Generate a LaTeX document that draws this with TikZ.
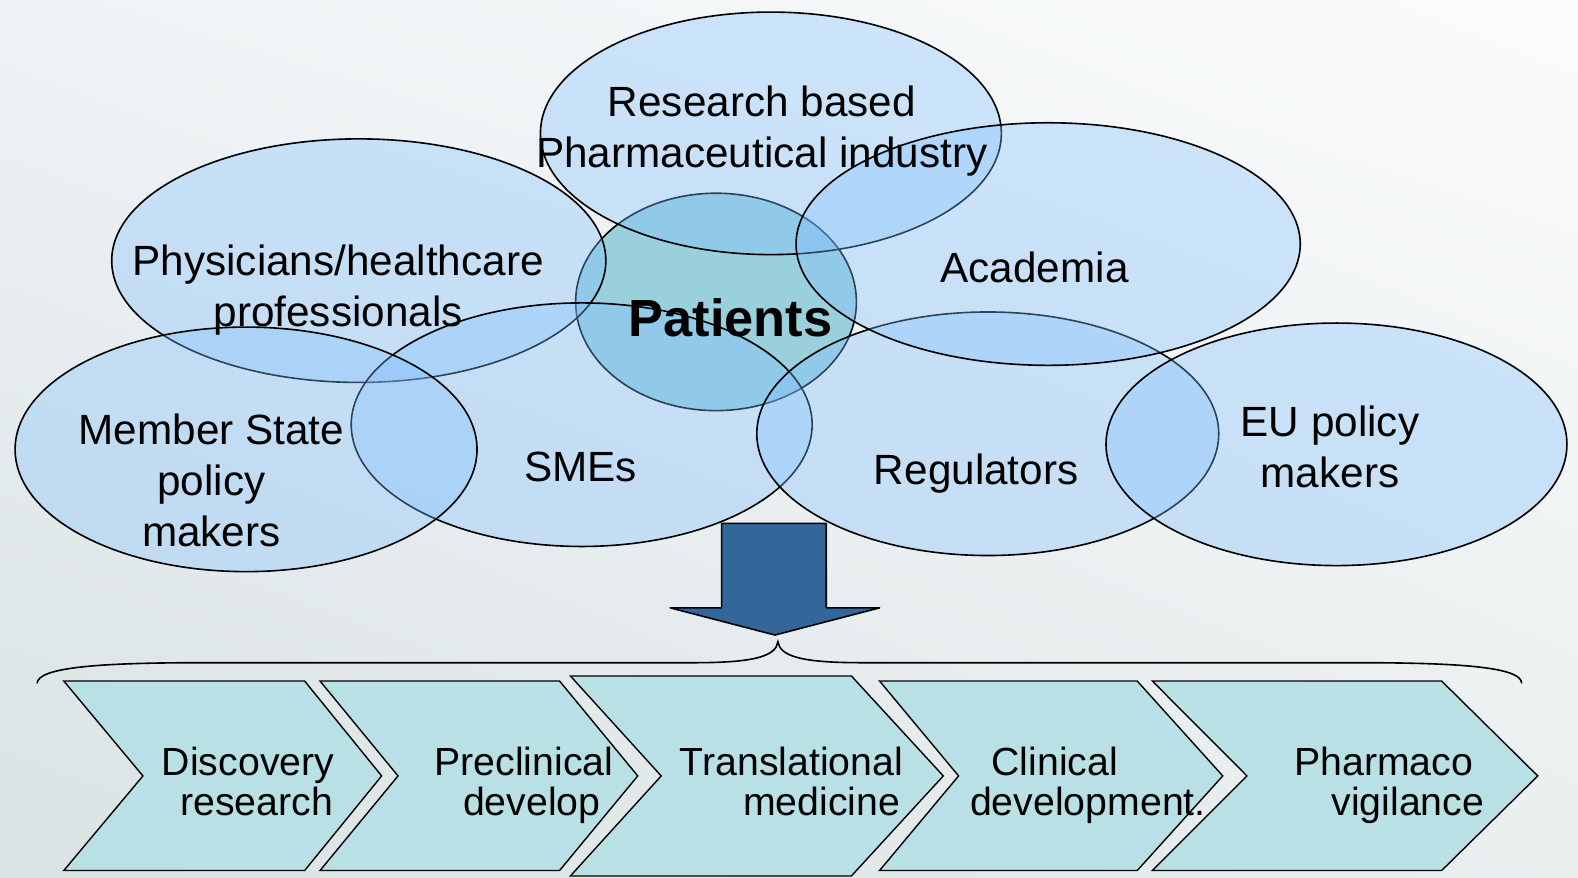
\documentclass[tikz,border=0pt]{standalone}
\usepackage{fontspec}
\setmainfont{Liberation Sans}
\usetikzlibrary{shapes.geometric,shadings}
\definecolor{bgTL}{RGB}{238,243,245}
\definecolor{bgTR}{RGB}{251,252,252}
\definecolor{bgBL}{RGB}{218,226,228}
\definecolor{bgBR}{RGB}{233,238,239}
\definecolor{ellfill}{RGB}{128,192,255}
\definecolor{patfill}{RGB}{154,208,220}
\definecolor{chevfill}{RGB}{185,224,228}
\definecolor{arrfill}{RGB}{51,102,153}
\tikzset{
  ell/.style={ellipse, draw=black, line width=0.8pt, fill=ellfill, fill opacity=0.35, inner sep=0pt, outer sep=0pt},
  patell/.style={ellipse, draw=black, line width=0.8pt, fill=patfill, inner sep=0pt, outer sep=0pt},
  lbl/.style={font=\fontsize{21}{25.5}\selectfont, align=center, inner sep=0pt, text=black},
  chev/.style={fill=chevfill, draw=black, line width=0.7pt, line join=miter},
  chevtxt/.style={font=\fontsize{19.5}{19.5}\selectfont, anchor=base, inner sep=0pt, text=black},
  bigarrow/.style={fill=arrfill, draw=black, line width=0.8pt, line join=round},
  bracepath/.style={draw=black, line width=0.8pt}
}
\begin{document}
\begin{tikzpicture}[x=0.5pt,y=-0.5pt]
\useasboundingbox (0,0) rectangle (1568,872);
\shade[upper left=bgTL, upper right=bgTR, lower left=bgBL, lower right=bgBR] (0,0) rectangle (1568,872);

% ellipses
\node[patell, minimum width=139.5pt, minimum height=108pt] (patients) at (711.5,300) {};
\node[ell, minimum width=245.5pt, minimum height=121pt] (physicians) at (356.5,259) {};
\node[ell, minimum width=229pt, minimum height=120.5pt] (research) at (766,132.5) {};
\node[ell, minimum width=229pt, minimum height=121pt] (smes) at (578,422) {};
\node[ell, minimum width=229.5pt, minimum height=121pt] (regulators) at (981.5,431) {};
\node[ell, minimum width=250.5pt, minimum height=120.5pt] (academia) at (1041.5,242.5) {};
\node[ell, minimum width=229.5pt, minimum height=121.5pt] (member) at (244.5,446.5) {};
\node[ell, minimum width=229pt, minimum height=120.5pt] (eu) at (1328,441.5) {};

% labels
\node[lbl] (tresearch) at (757,130.5) {Research based\\Pharmaceutical industry};
\node[lbl] (tphys) at (336,288.5) {Physicians/healthcare\\professionals};
\node[lbl] (tacad) at (1028,266) {Academia};
\node[lbl, font=\fontsize{26}{30}\selectfont\bfseries] (tpat) at (726,316) {Patients};
\node[lbl] (tmember) at (210,477.5) {Member State\\policy\\makers};
\node[lbl] (tsmes) at (577,464) {SMEs};
\node[lbl] (treg) at (970,471) {Regulators};
\node[lbl] (teu) at (1321.5,444) {EU policy\\makers};

% big arrow
\draw[bigarrow] (717,520) -- (821,520) -- (821,604) -- (874,604) -- (770,631) -- (666,604) -- (717,604) -- cycle;

% brace
\draw[bracepath] (36.8,679) .. controls (38,664) and (90,658.5) .. (200,658.5) -- (690,658.5)
  .. controls (750,658.5) and (771,652) .. (773,637.6)
  .. controls (775,652) and (796,658.5) .. (856,658.5) -- (1350,658.5)
  .. controls (1460,658.5) and (1512,664) .. (1512,679);

% chevrons
\draw[chev] (63.4,676.7) -- (302.7,676.7) -- (379.2,771) -- (302.7,865) -- (63.4,865) -- (142,771) -- cycle;
\draw[chev] (318,676.7) -- (556,676.7) -- (633.7,771) -- (556,865) -- (318,865) -- (395.5,771) -- cycle;
\draw[chev] (566.8,671.7) -- (846,671.7) -- (937.3,771) -- (846,870.4) -- (566.8,870.4) -- (657,771) -- cycle;
\draw[chev] (874,676.7) -- (1130,676.7) -- (1215,771) -- (1130,865) -- (874,865) -- (952.5,771) -- cycle;
\draw[chev] (1145,676.7) -- (1432.5,676.7) -- (1528,771) -- (1432.5,865) -- (1145,865) -- (1239,771) -- cycle;

\node[chevtxt] (c1a) at (246.5,771) {Discovery};
\node[chevtxt] (c1b) at (255,810) {research};
\node[chevtxt] (c2a) at (520.5,771) {Preclinical};
\node[chevtxt] (c2b) at (528.5,810) {develop};
\node[chevtxt] (c3a) at (786.5,771) {Translational};
\node[chevtxt] (c3b) at (816.5,810) {medicine};
\node[chevtxt] (c4a) at (1048,771) {Clinical};
\node[chevtxt] (c4b) at (1081,810) {development.};
\node[chevtxt] (c5a) at (1375,771) {Pharmaco};
\node[chevtxt] (c5b) at (1399,810) {vigilance};
\end{tikzpicture}
\end{document}
